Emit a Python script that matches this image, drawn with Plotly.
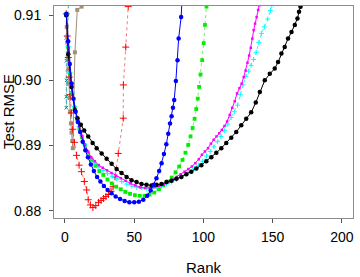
import plotly.graph_objects as go

# ---- data (rank, test RMSE) ----
black_rank = [1, 2.4, 4.8, 7.2, 9.1, 11.5, 13.9, 16.8, 20, 22.9, 26.5, 30.1, 33.7, 37.3, 40.9, 44.5, 48.1,
              51.7, 55.3, 58.9, 62.5, 66.1, 69.7, 73.3, 76.9, 80.5, 84.1, 87.7, 91.3, 94.9, 98.5, 102.1,
              105.7, 109.3, 112.9, 116.5, 120.1, 123.7, 127.3, 130.9, 134.5, 137.8, 140.7, 144.3, 147.9,
              151.5, 153.9, 156.3, 158.7, 161.1, 163.6, 166.0, 167.9, 169.0, 170.1]
black_rmse = [0.9100, 0.9040, 0.8990, 0.8954, 0.8942, 0.8932, 0.8923, 0.8914, 0.8904, 0.8896, 0.8888,
              0.8880, 0.8872, 0.8864, 0.8858, 0.8852, 0.8847, 0.8844, 0.8841, 0.8840, 0.8839, 0.8840,
              0.8841, 0.8844, 0.8846, 0.8849, 0.8852, 0.8856, 0.8860, 0.8865, 0.8870, 0.8876, 0.8882,
              0.8889, 0.8896, 0.8904, 0.8912, 0.8921, 0.8931, 0.8941, 0.8951, 0.8966, 0.8982, 0.9000,
              0.9010, 0.9018, 0.9028, 0.9041, 0.9051, 0.9064, 0.9074, 0.9085, 0.9095, 0.9105, 0.9113]

magenta_rank = [1, 2.4, 3.8, 5.2, 6.8, 8.5, 10.3, 12.2, 14.3, 16.6, 19, 21.6, 24.4, 27.3, 30.4, 33.6,
                36.9, 40.3, 43.8, 47.3, 50.8, 54.3, 57.8, 61.3, 64.7, 68.1, 71.4, 74.6, 77.7, 80.7, 83.6,
                86.4, 89.1, 91.7, 94.2, 96.6, 98.9, 101.1, 103.3, 105.4, 107.4, 109.4, 111.4, 113.3,
                115.2, 117.1, 119, 120.8, 122.6, 124.3, 126, 127.6, 129.1, 130.5, 131.8, 133, 134.2,
                135.3, 136.3, 137.3, 138.4, 139.5, 140.3]
magenta_rmse = [0.9100, 0.9045, 0.9005, 0.8978, 0.8958, 0.8944, 0.8930, 0.8915, 0.8902, 0.8891, 0.8882,
                0.8876, 0.8870, 0.8866, 0.8862, 0.8858, 0.8854, 0.8850, 0.8846, 0.8842, 0.8839, 0.8836,
                0.8835, 0.8835, 0.8836, 0.8838, 0.8840, 0.8844, 0.8848, 0.8852, 0.8856, 0.8860, 0.8864,
                0.8868, 0.8873, 0.8879, 0.8886, 0.8891, 0.8896, 0.8903, 0.8909, 0.8914, 0.8919, 0.8924,
                0.8930, 0.8937, 0.8947, 0.8958, 0.8968, 0.8980, 0.8988, 0.8995, 0.9005, 0.9015, 0.9027,
                0.9038, 0.9050, 0.9064, 0.9077, 0.9087, 0.9097, 0.9108, 0.9115]

cyan_rank = [1, 2.3, 3.6, 5, 6.6, 8.3, 10.1, 12, 14.1, 16.4, 18.9, 21.6, 24.5, 27.6, 30.8, 34.1, 37.5,
             41, 44.6, 48.2, 51.8, 55.4, 59, 62.6, 66.2, 69.8, 73.4, 77, 80.5, 83.9, 87.2, 90.4, 93.5,
             96.5, 99.4, 102.2, 104.9, 107.5, 110.1, 112.6, 115.1, 117.6, 120, 122.3, 124.6, 126.6,
             128.6, 130.6, 132.5, 134.4, 136.2, 138.1, 140, 141.9, 144, 146.4, 148.4, 149.4]
cyan_rmse = [0.9102, 0.9052, 0.9012, 0.8982, 0.8960, 0.8943, 0.8929, 0.8915, 0.8902, 0.8891, 0.8881,
             0.8873, 0.8867, 0.8862, 0.8857, 0.8853, 0.8849, 0.8845, 0.8841, 0.8838, 0.8836, 0.8835,
             0.8834, 0.8835, 0.8836, 0.8838, 0.8841, 0.8844, 0.8848, 0.8852, 0.8856, 0.8860, 0.8865,
             0.8870, 0.8876, 0.8884, 0.8891, 0.8898, 0.8906, 0.8914, 0.8923, 0.8933, 0.8943, 0.8952,
             0.8962, 0.8978, 0.8993, 0.9006, 0.9014, 0.9023, 0.9032, 0.9043, 0.9058, 0.9072, 0.9082,
             0.9094, 0.9107, 0.9116]

green_rank = [1, 2.4, 3.8, 5.3, 6.9, 8.6, 10.4, 12.3, 14.4, 16.8, 19.3, 22, 24.8, 27.7, 30.7, 33.8, 37,
              40.3, 43.6, 47, 50.5, 54, 57.5, 61, 64.5, 67.9, 71.1, 74.2, 77.1, 79.9, 82.5, 84.9, 87,
              89, 90.7, 92.2, 93.6, 94.8, 95.9, 96.9, 97.9, 99.1, 100.2, 101.1, 102.2]
green_rmse = [0.9101, 0.9050, 0.9010, 0.8980, 0.8958, 0.8941, 0.8926, 0.8913, 0.8900, 0.8889, 0.8878,
              0.8869, 0.8861, 0.8855, 0.8848, 0.8842, 0.8837, 0.8833, 0.8829, 0.8826, 0.8824, 0.8823,
              0.8823, 0.8825, 0.8828, 0.8833, 0.8839, 0.8845, 0.8851, 0.8859, 0.8868, 0.8878, 0.8889,
              0.8901, 0.8914, 0.8927, 0.8941, 0.8956, 0.8972, 0.8990, 0.9009, 0.9031, 0.9057, 0.9085,
              0.9113]

blue_rank = [1, 2.3, 3.5, 4.8, 6.2, 7.7, 9.3, 11, 12.8, 14.7, 16.6, 18.7, 20.9, 23.2, 25.6, 28.1, 30.8,
             33.6, 36.6, 39.8, 43.1, 46.5, 50, 53.4, 56.6, 59.4, 61.9, 64.1, 66.1, 68, 69.8, 71.5, 73.2,
             74.6, 75.9, 77, 78, 78.9, 80.1, 81.3, 82.1, 83.9, 84.6]
blue_rmse = [0.9102, 0.9060, 0.9025, 0.8995, 0.8972, 0.8952, 0.8936, 0.8921, 0.8906, 0.8893, 0.8882,
             0.8871, 0.8861, 0.8852, 0.8845, 0.8838, 0.8832, 0.8827, 0.8822, 0.8818, 0.8815, 0.8813,
             0.8813, 0.8814, 0.8817, 0.8823, 0.8831, 0.8840, 0.8850, 0.8861, 0.8873, 0.8887, 0.8902,
             0.8918, 0.8934, 0.8945, 0.8958, 0.8970, 0.8999, 0.9031, 0.9064, 0.9097, 0.9125]

red_rank = [1, 1.7, 2.4, 3.1, 3.8, 4.6, 5.6, 6.8, 8.4, 10.2, 12, 14, 15.7, 16.8, 18.4, 20.2, 22.3, 24.3,
            26.1, 27.8, 29.6, 31.4, 33.2, 34.8, 36.2, 38.5, 42.1, 42.2, 43.9, 45.7]
red_rmse = [0.9102, 0.9068, 0.9035, 0.9005, 0.8978, 0.8950, 0.8925, 0.8905, 0.8885, 0.8870, 0.8860,
            0.8845, 0.8832, 0.8817, 0.8809, 0.8805, 0.8808, 0.8813, 0.8816, 0.8819, 0.8822, 0.8825,
            0.8830, 0.8837, 0.8852, 0.8888, 0.8942, 0.8993, 0.9051, 0.9113]

tan_rank = [1, 1.3, 1.7, 2.1, 2.5, 2.9, 3.3, 3.8, 4.3, 4.8, 5.3, 5.7, 7.2, 8.9, 12.0]
tan_rmse = [0.9100, 0.9082, 0.9058, 0.9036, 0.9017, 0.8995, 0.8973, 0.8952, 0.8934, 0.8920, 0.8907,
            0.8896, 0.9043, 0.9108, 0.9113]

teal_rank = [1, 1.0, 1.1, 1.2, 1.0, 1.0, 2.6]
teal_rmse = [0.9100, 0.9065, 0.9030, 0.9000, 0.8975, 0.8958, 0.9130]

x_ticks = [0, 50, 100, 150, 200]
y_ticks = [0.88, 0.89, 0.90, 0.91]
x_title = "Rank"
y_title = "Test RMSE"

FONT = "Liberation Sans, Arial, sans-serif"

series = [
    # name, x, y, marker color, line color, dash, symbol, size
    ("teal", teal_rank, teal_rmse, "#008B8B", "rgba(0,139,139,0.7)", "dot", "x-thin", 3.5),
    ("tan", tan_rank, tan_rmse, "#A08F7C", "#A08F7C", "solid", "square", 4),
    ("red", red_rank, red_rmse, "#FF0000", "rgba(255,0,0,0.55)", "dot", "cross-thin", 5),
    ("green", green_rank, green_rmse, "#00EE00", "rgba(0,238,0,0.6)", "dot", "square", 3.8),
    ("cyan", cyan_rank, cyan_rmse, "#00FFFF", "rgba(0,230,230,0.7)", "dot", "cross-thin", 3.5),
    ("magenta", magenta_rank, magenta_rmse, "#FF00FF", "#FF00FF", "solid", "square", 2.5),
    ("black", black_rank, black_rmse, "#000000", "#000000", "solid", "circle", 4.5),
    ("blue", blue_rank, blue_rmse, "#0000FF", "#0000FF", "solid", "circle", 4.5),
]

fig = go.Figure()
for name, xs, ys, mcol, lcol, dash, sym, size in series:
    thin = sym.endswith("-thin")
    fig.add_trace(go.Scatter(
        x=xs, y=ys, mode="lines+markers", name=name,
        line=dict(color=lcol, width=1, dash=dash),
        marker=dict(symbol=sym, size=size, color=mcol,
                    line=dict(color=mcol, width=1 if thin else 0)),
        showlegend=False,
    ))

axis_common = dict(
    showgrid=False, zeroline=False, showline=True, mirror=True,
    linecolor="#8c8c8c", linewidth=1,
    ticks="outside", ticklen=4, tickcolor="#555555", tickwidth=1,
    tickfont=dict(family=FONT, size=14, color="#000000"),
)

fig.update_layout(
    width=360, height=277,
    margin=dict(l=54, r=7, t=6, b=59),
    paper_bgcolor="white", plot_bgcolor="white",
    font=dict(family=FONT, color="#000000"),
    xaxis=dict(range=[-7.9, 208], tickvals=x_ticks, ticktext=[str(v) for v in x_ticks],
               ticklabelstandoff=2, **axis_common),
    yaxis=dict(range=[0.8789, 0.9114], tickvals=y_ticks, ticktext=[f"{v:.2f}" for v in y_ticks],
               ticklabelstandoff=5, **axis_common),
    annotations=[
        dict(text=x_title, xref="paper", yref="paper", x=0.5, y=0, yshift=-49,
             xanchor="center", yanchor="middle", showarrow=False,
             font=dict(family=FONT, size=15, color="#000000")),
        dict(text=y_title, xref="paper", yref="paper", x=0, y=0.5, xshift=-46,
             xanchor="center", yanchor="middle", textangle=-90, showarrow=False,
             font=dict(family=FONT, size=15, color="#000000")),
    ],
)

fig.write_html("out.html", config={"displayModeBar": False},
               post_script="document.body.style.margin='0';")
